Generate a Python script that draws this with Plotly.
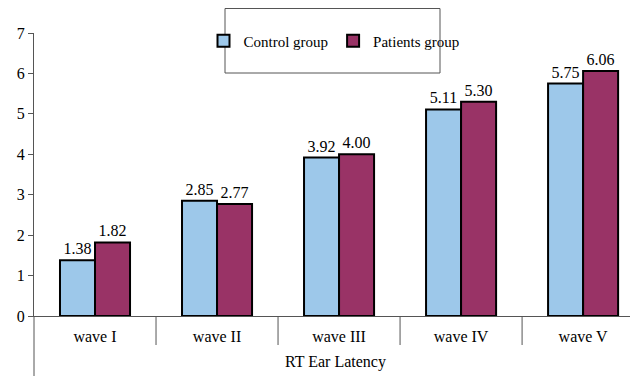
import plotly.graph_objects as go

categories = ["wave I", "wave II", "wave III", "wave IV", "wave V"]
control = [1.38, 2.85, 3.92, 5.11, 5.75]
patients = [1.82, 2.77, 4.00, 5.30, 6.06]
yticks = [0, 1, 2, 3, 4, 5, 6, 7]

FONT = "Liberation Serif, Times New Roman, serif"
FS = 16
OFF = 8  # page body margin
W, H = 638 - OFF, 376 - OFF
L, R, T = 34 - OFF, 0, 33 - OFF
PLOT_BOTTOM = 316 - OFF
B = H - PLOT_BOTTOM
ph = H - T - B
pw = W - L - R


def px_x(x):
    return (x - 34) / pw


def px_y(y):
    return (316 - y) / ph


fig = go.Figure()
fig.add_bar(name="Control group", x=categories, y=control,
            marker=dict(color="#9DC8EA", line=dict(color="black", width=2)),
            text=[f"{v:.2f}" for v in control], textposition="outside",
            textfont=dict(family=FONT, size=FS, color="black"), cliponaxis=False)
fig.add_bar(name="Patients group", x=categories, y=patients,
            marker=dict(color="#993366", line=dict(color="black", width=2)),
            text=[f"{v:.2f}" for v in patients], textposition="outside",
            textfont=dict(family=FONT, size=FS, color="black"), cliponaxis=False)

shapes = []
for i in range(len(categories) - 1):
    shapes.append(dict(type="line", xref="x", yref="paper", x0=i + 0.5, x1=i + 0.5,
                       y0=0, y1=px_y(345), line=dict(color="#555555", width=1)))
shapes.append(dict(type="line", xref="paper", yref="paper", x0=0, x1=0,
                   y0=0, y1=px_y(376), line=dict(color="#555555", width=1)))
shapes.append(dict(type="rect", xref="paper", yref="paper",
                   x0=px_x(225), x1=px_x(440),
                   y0=px_y(73), y1=px_y(8.5),
                   line=dict(color="#555555", width=1), fillcolor="rgba(0,0,0,0)"))

fig.update_layout(
    width=W, height=H,
    margin=dict(l=L, r=R, t=T, b=B, autoexpand=False),
    paper_bgcolor="white", plot_bgcolor="white",
    font=dict(family=FONT, size=FS, color="black"),
    barmode="group", bargap=0.426, bargroupgap=0,
    showlegend=True,
    legend=dict(orientation="h", x=px_x(334), xanchor="center",
                y=px_y(41), yanchor="middle",
                font=dict(family=FONT, size=15, color="black"),
                bgcolor="rgba(0,0,0,0)", itemwidth=30, itemsizing="constant"),
    shapes=shapes,
    annotations=[dict(text="RT Ear Latency", xref="paper", yref="paper",
                      x=px_x(335), y=px_y(362), xanchor="center",
                      yanchor="middle", showarrow=False,
                      font=dict(family=FONT, size=FS, color="black"))],
)
fig.update_xaxes(range=[-0.5, 4.45], showline=True, linecolor="#555555", linewidth=1,
                 ticks="", showgrid=False, zeroline=False, automargin=False,
                 ticklabelstandoff=6,
                 tickfont=dict(family=FONT, size=FS, color="black"))
fig.update_yaxes(range=[0, 7], tickvals=yticks, showline=True, linecolor="#555555",
                 linewidth=1, ticks="outside", ticklen=5, tickcolor="#555555",
                 showgrid=False, zeroline=False, automargin=False,
                 tickfont=dict(family=FONT, size=FS, color="black"))

fig.write_html("out.html")
